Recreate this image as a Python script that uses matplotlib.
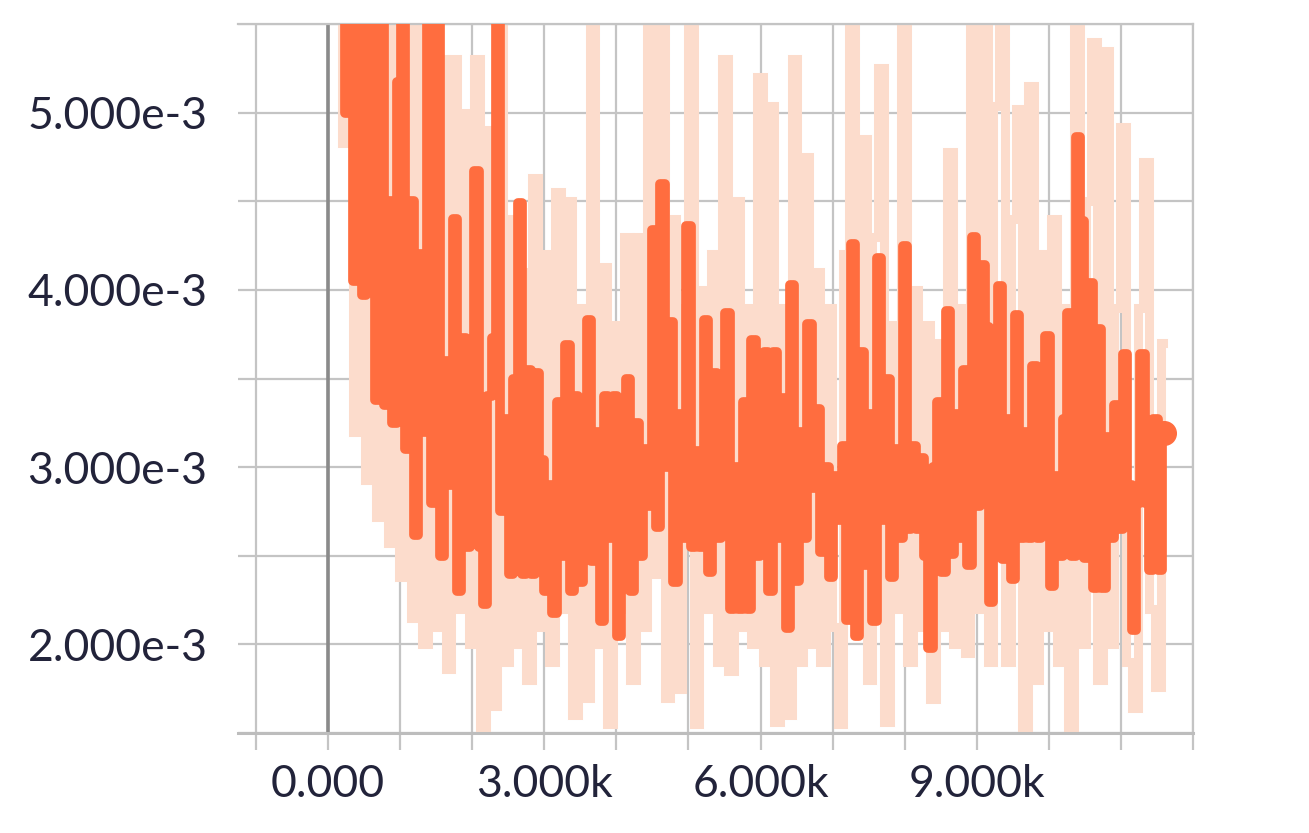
import numpy as np
import matplotlib
matplotlib.use("Agg")
import matplotlib.pyplot as plt
from matplotlib.ticker import FuncFormatter, MultipleLocator

# smoothed loss (x1e-3), one value every 60 steps starting at step 200
smoothed_loss = [
    6.8, 5.0, 6.2, 4.05, 5.9, 3.97, 6.0, 4.2, 3.38, 5.7,
    3.35, 4.5, 3.25, 5.17, 5.8, 3.1, 4.5, 2.62, 4.2, 3.2,
    5.9, 2.8, 5.6, 2.5, 3.6, 2.9, 4.4, 2.3, 3.73, 2.55,
    3.1, 4.67, 2.55, 2.23, 3.4, 3.73, 5.9, 2.75, 3.27, 2.4,
    3.5, 4.49, 2.4, 3.55, 2.4, 3.53, 3.04, 2.3, 2.9, 2.18,
    3.37, 2.5, 3.69, 2.3, 3.4, 2.35, 3.3, 3.83, 2.47, 3.2,
    2.13, 3.4, 2.6, 3.4, 2.05, 2.9, 3.5, 2.3, 3.25, 2.5,
    3.1, 2.78, 4.34, 2.66, 4.6, 3.0, 3.82, 2.35, 3.3, 2.6,
    4.36, 2.55, 3.09, 2.55, 3.83, 2.41, 3.53, 2.6, 3.2, 3.87,
    2.2, 3.0, 2.2, 3.37, 2.2, 3.72, 2.5, 3.3, 3.65, 2.3,
    3.65, 2.6, 3.39, 2.09, 4.03, 2.36, 3.2, 2.6, 3.81, 2.88,
    3.33, 2.52, 3.0, 2.38, 2.95, 2.7, 3.12, 2.14, 4.26, 2.05,
    3.65, 2.45, 3.3, 2.13, 4.18, 2.7, 3.5, 2.38, 3.1, 2.6,
    4.25, 2.65, 3.12, 2.65, 3.05, 2.5, 1.98, 3.0, 3.37, 2.41,
    3.88, 2.51, 3.3, 2.6, 3.55, 2.45, 4.3, 2.78, 4.14, 3.79,
    2.24, 3.2, 4.02, 2.48, 3.27, 2.37, 3.86, 2.6, 3.2, 2.6,
    3.57, 2.6, 3.2, 3.74, 2.33, 2.95, 2.5, 3.27, 3.87, 2.5,
    4.86, 4.39, 2.49, 4.04, 2.32, 3.78, 2.32, 3.17, 2.6, 3.35,
    2.65, 3.64, 2.9, 2.08, 2.8, 3.64, 2.8, 2.42, 3.27, 2.42,
    3.19,
]

# raw loss (x1e-3), one value every 80 steps starting at step 150
raw_loss = [
    6.5, 4.83, 6.2, 3.2, 6.0, 2.93, 5.9, 2.72, 6.0, 2.57,
    5.7, 2.38, 6.0, 2.15, 5.5, 2.0, 6.0, 2.1, 5.3, 1.86,
    5.3, 2.2, 5.0, 2.0, 5.3, 1.53, 4.9, 1.65, 6.0, 1.9,
    4.4, 2.0, 4.1, 1.8, 4.63, 2.1, 4.2, 1.9, 4.55, 2.2,
    4.5, 1.6, 3.9, 1.7, 5.9, 2.0, 4.13, 1.55, 3.8, 2.2,
    4.3, 1.8, 4.3, 2.1, 5.9, 2.4, 5.8, 1.7, 4.4, 1.75,
    3.9, 5.9, 1.55, 4.0, 2.2, 4.2, 1.9, 5.3, 1.85, 4.5,
    2.1, 3.9, 2.0, 5.2, 1.9, 5.04, 1.56, 3.9, 1.6, 5.3,
    1.9, 4.75, 2.0, 4.1, 1.9, 3.9, 2.1, 1.55, 4.2, 6.0,
    2.1, 4.85, 1.8, 4.3, 5.25, 1.56, 3.8, 2.2, 5.9, 1.9,
    4.0, 2.1, 3.8, 1.69, 3.7, 2.1, 4.78, 2.0, 3.9, 1.95,
    5.9, 2.2, 5.6, 1.9, 5.04, 6.0, 1.9, 4.4, 5.02, 1.53,
    5.15, 1.8, 4.2, 2.1, 4.4, 1.9, 3.9, 1.53, 6.0, 2.0,
    4.5, 5.4, 1.8, 5.35, 2.0, 3.9, 4.92, 1.9, 1.64, 3.9,
    4.72, 2.2, 1.76, 3.7,
]

smoothed_steps = 200 + 60 * np.arange(len(smoothed_loss))
raw_steps = 150 + 80 * np.arange(len(raw_loss))

GRID = "#c4c4c4"
LABEL = "#22233a"

fig = plt.figure(figsize=(13.09, 8.33), dpi=100)
ax = fig.add_axes([0.1818, 0.120, 0.7296, 0.8512])

ax.plot(raw_steps, np.array(raw_loss) * 1e-3, color="#fcdccc", lw=6.5,
        drawstyle="steps-mid", solid_joinstyle="miter", zorder=2)
ax.plot(smoothed_steps, np.array(smoothed_loss) * 1e-3, color="#ff6d3f", lw=7,
        drawstyle="steps-mid", solid_joinstyle="round", solid_capstyle="round",
        zorder=3)
ax.plot(smoothed_steps[-1:], np.array(smoothed_loss[-1:]) * 1e-3, "o",
        color="#ff6d3f", ms=17, zorder=4)

ax.set_xlim(-1250, 12000)
ax.set_ylim(1.5e-3, 5.5e-3)

ax.xaxis.set_major_locator(MultipleLocator(1000))
ax.yaxis.set_major_locator(MultipleLocator(0.5e-3))


def fmt_x(v, pos):
    if round(v) % 3000 != 0 or v > 10000:
        return ""
    if v == 0:
        return "0.000"
    return f"{v / 1000:.3f}k"


def fmt_y(v, pos):
    if round(v * 1e4) % 10 != 0:
        return ""
    return f"{v * 1e3:.3f}e-3"


ax.xaxis.set_major_formatter(FuncFormatter(fmt_x))
ax.yaxis.set_major_formatter(FuncFormatter(fmt_y))

ax.grid(True, color=GRID, lw=1.6, zorder=1)
ax.set_axisbelow(True)
ax.axvline(0, color="#8a8a8a", lw=2.6, zorder=1)

ax.spines["left"].set_visible(False)
for side in ["top", "right"]:
    ax.spines[side].set_color(GRID)
    ax.spines[side].set_linewidth(1.6)
ax.spines["bottom"].set_color("#bdbdbd")
ax.spines["bottom"].set_linewidth(2.2)

ax.tick_params(axis="x", length=12, width=1.6, color=GRID, pad=10,
               labelsize=32, labelcolor=LABEL)
ax.tick_params(axis="y", length=0, pad=22, labelsize=32, labelcolor=LABEL)
for lbl in ax.get_xticklabels() + ax.get_yticklabels():
    lbl.set_family("Lato")

plt.savefig("out.png", dpi=100)
